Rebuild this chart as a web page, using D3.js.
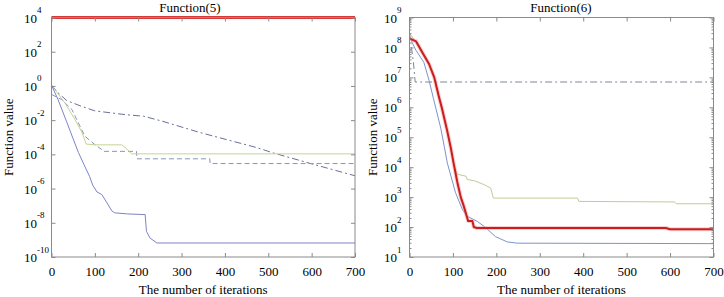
<!DOCTYPE html>
<html>
<head>
<meta charset="utf-8">
<script src="https://cdn.jsdelivr.net/npm/d3@7"></script>
<style>
    body { margin: 0; background: #fff; }
</style>
</head>
<body>
<svg id="chart" width="724" height="297"></svg>
<script>
// ---- data ----
const iterTicks = [0, 100, 200, 300, 400, 500, 600, 700];
const f5Exponents = [-10, -8, -6, -4, -2, 0, 2, 4];
const f6Exponents = [1, 2, 3, 4, 5, 6, 7, 8, 9];

// Function(5)
const f5Red = [[0, 1e4], [700, 1e4]];
const f5Blue = [[0, 1.1], [15, 0.16], [35, 8e-3], [50, 8e-4], [62, 1.3e-4], [75, 2.5e-5], [88, 5e-6],
    [95, 1.6e-6], [105, 6.3e-7], [116, 4.5e-7], [127, 1.6e-7], [139, 5e-8], [146, 3.8e-8], [175, 3.3e-8],
    [216, 3e-8], [219, 3.2e-9], [227, 1.3e-9], [243, 6.6e-10], [700, 6.6e-10]];
const f5Green = [[0, 1.1], [31, 0.1], [54, 0.011], [70, 2e-3], [80, 4e-4], [100, 3.6e-4], [162, 3.6e-4],
    [170, 2.5e-4], [185, 1.07e-4], [700, 1.07e-4]];
const f5Dashed = [[0, 0.32], [23, 0.16], [47, 0.042], [62, 6.9e-3], [77, 1.15e-3], [100, 3.7e-4],
    [116, 1.9e-4], [119, 1.5e-4], [196, 1.5e-4], [197, 5.5e-5], [365, 5.5e-5], [366, 2.9e-5], [700, 2.9e-5]];
const f5DashDot = [[0, 1.1], [15, 0.4], [35, 0.14], [70, 0.063], [100, 0.035], [135, 0.027], [170, 0.021],
    [212, 0.017], [254, 8.9e-3], [342, 1.9e-3], [473, 2.5e-4], [512, 1.2e-4], [600, 2.8e-5], [700, 5.6e-6]];

// Function(6)
const f6Red = [[0, 2e8], [15, 1.6e8], [29, 7e7], [45, 2.8e7], [57, 1e7], [67, 2.5e6], [75, 9e5], [87, 1.6e5],
    [95, 4.5e4], [102, 1.26e4], [110, 3.2e3], [118, 1e3], [125, 500], [133, 200], [135, 158], [145, 158],
    [148, 100], [155, 93], [590, 93], [600, 85], [700, 85]];
const f6Blue = [[0, 2.2e8], [15, 8e7], [33, 3.2e7], [45, 8e6], [55, 2e6], [72, 2e5], [80, 5e4], [87, 1.4e4],
    [106, 1.4e3], [122, 380], [133, 230], [156, 155], [172, 105], [198, 48], [225, 32], [248, 29], [700, 28]];
const f6Green = [[0, 3e8], [15, 1.5e8], [29, 6.5e7], [45, 2.6e7], [57, 9e6], [67, 2.2e6], [75, 8e5],
    [87, 1.4e5], [95, 4e4], [102, 1.1e4], [110, 5.8e3], [130, 5e3], [133, 3.9e3], [150, 3.5e3], [172, 2.6e3],
    [187, 2e3], [193, 930], [387, 930], [390, 720], [610, 690], [615, 600], [700, 600]];
const f6DashDot = [[0, 3.2e8], [5, 9e7], [9, 3.2e7], [13, 7e6], [700, 7e6]];

const FONT = "'Liberation Serif', 'Times New Roman', serif";
const svg = d3.select("#chart");
const yBottom = 257, yTop = 17.5;

function drawPanel(p) {
    let g = svg.append("g");

    let x = d3.scaleLinear().domain([0, 700]).range([p.left, p.right]);
    let y = d3.scaleLog().domain([Math.pow(10, p.exps[0]), Math.pow(10, p.exps[p.exps.length - 1])])
        .range([yBottom, yTop]);

    // lines
    let line = d3.line().x(d => x(d[0])).y(d => y(d[1]));
    p.series.forEach(s => {
        g.append("path")
            .datum(s.data)
            .attr("fill", "none")
            .attr("stroke", s.color)
            .attr("stroke-width", s.width)
            .attr("stroke-opacity", s.opacity || 1)
            .attr("stroke-dasharray", s.dash || null)
            .attr("stroke-linejoin", "round")
            .attr("d", line);
    });

    // box
    g.append("rect")
        .attr("x", p.left).attr("y", yTop)
        .attr("width", p.right - p.left).attr("height", yBottom - yTop)
        .attr("fill", "none").attr("stroke", "#8a8a8a").attr("stroke-width", 1);

    let tickVals = p.exps.map(e => Math.pow(10, e));

    // x axis (bottom with labels, top ticks only)
    g.append("g")
        .attr("transform", "translate(0," + yBottom + ")")
        .call(d3.axisBottom(x).tickValues(iterTicks).tickSizeInner(-4).tickSizeOuter(0).tickPadding(10));
    g.append("g")
        .attr("transform", "translate(0," + yTop + ")")
        .call(d3.axisTop(x).tickValues(iterTicks).tickSizeInner(-4).tickSizeOuter(0).tickFormat(""));

    // y axes
    let yAxis = g.append("g")
        .attr("transform", "translate(" + p.left + ",0)")
        .call(d3.axisLeft(y).tickValues(tickVals).tickSizeInner(-4).tickSizeOuter(0).tickFormat(""));
    g.append("g")
        .attr("transform", "translate(" + p.right + ",0)")
        .call(d3.axisRight(y).tickValues(tickVals).tickSizeInner(-4).tickSizeOuter(0).tickFormat(""));

    if (p.minor) {
        let minorVals = [];
        p.exps.slice(0, -1).forEach(e => {
            for (let k = 2; k <= 9; k++) minorVals.push(k * Math.pow(10, e));
        });
        g.append("g")
            .attr("transform", "translate(" + p.left + ",0)")
            .call(d3.axisLeft(y).tickValues(minorVals).tickSizeInner(-2).tickSizeOuter(0).tickFormat(""));
        g.append("g")
            .attr("transform", "translate(" + p.right + ",0)")
            .call(d3.axisRight(y).tickValues(minorVals).tickSizeInner(-2).tickSizeOuter(0).tickFormat(""));
    }

    g.selectAll(".domain").remove();
    g.selectAll(".tick line").attr("stroke", "#8a8a8a");
    g.selectAll(".tick text").style("font-size", "13px");

    // 10^n labels
    yAxis.selectAll(".tick").each(function (d) {
        let t = d3.select(this);
        let e = Math.round(Math.log10(d));
        t.select("text").remove();
        t.append("text")
            .attr("x", -p.labelGap).attr("dy", "0.35em")
            .attr("text-anchor", "end")
            .style("font-size", "13px")
            .text("10");
        t.append("text")
            .attr("x", -p.labelGap).attr("y", -5)
            .attr("text-anchor", "start")
            .style("font-size", "9px")
            .text(e);
    });

    // titles
    g.append("text")
        .attr("x", p.titleX).attr("y", 12)
        .attr("text-anchor", "middle")
        .style("font-size", "13px")
        .text(p.title);

    g.append("text")
        .attr("x", (p.left + p.right) / 2).attr("y", 294)
        .attr("text-anchor", "middle")
        .style("font-size", "13px")
        .text("The number of iterations");

    g.append("text")
        .attr("transform", "translate(" + p.yLabelX + "," + ((yTop + yBottom) / 2) + ") rotate(-90)")
        .attr("text-anchor", "middle")
        .style("font-size", "13px")
        .text("Function value");

    // serif everywhere, like the original figure
    g.selectAll("g").attr("font-family", null).attr("font-size", null);
    g.selectAll("text")
        .style("font-family", FONT)
        .style("fill", "#000");
}

drawPanel({
    left: 51.5, right: 355, exps: f5Exponents, minor: false, labelGap: 14.5,
    title: "Function(5)", titleX: 190, yLabelX: 13,
    series: [
        { data: f5DashDot, color: "#6a7098", width: 1, dash: "7,3,2,3" },
        { data: f5Dashed, color: "#8a94b8", width: 1, dash: "5,3" },
        { data: f5Green, color: "#c4d494", width: 1 },
        { data: f5Blue, color: "#7b84c8", width: 1 },
        { data: f5Red, color: "#d43c3c", width: 3 }
    ]
});

drawPanel({
    left: 409.5, right: 713.5, exps: f6Exponents, minor: true, labelGap: 12.5,
    title: "Function(6)", titleX: 561, yLabelX: 377,
    series: [
        { data: f6Green, color: "#c8c898", width: 1 },
        { data: f6DashDot, color: "#7f8898", width: 1, dash: "7,3,2,3" },
        { data: f6Blue, color: "#7b94cc", width: 1 },
        { data: f6Red, color: "#f3a0a0", width: 4, opacity: 0.5 },
        { data: f6Red, color: "#c81e1e", width: 2 }
    ]
});
</script>
</body>
</html>
